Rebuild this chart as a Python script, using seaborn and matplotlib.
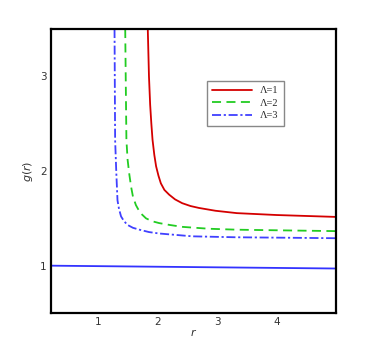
import matplotlib
matplotlib.use('Agg')
import matplotlib.pyplot as plt
import seaborn as sns

sns.set_theme(style='white')
plt.rcParams['font.family'] = ['DejaVu Sans']

# curves
r_l1 = [1.83, 1.85, 1.87, 1.89, 1.91, 1.94, 1.97, 2.01, 2.05, 2.11, 2.19, 2.29, 2.41, 2.55, 2.69, 2.97, 3.33, 4.00, 4.50, 5.00]
g_l1 = [3.50, 3.00, 2.70, 2.50, 2.33, 2.17, 2.05, 1.95, 1.87, 1.80, 1.75, 1.70, 1.66, 1.63, 1.61, 1.58, 1.555, 1.535, 1.525, 1.515]

r_l2 = [1.45, 1.46, 1.47, 1.49, 1.52, 1.55, 1.58, 1.63, 1.70, 1.80, 1.90, 2.02, 2.20, 2.41, 2.86, 3.33, 4.20, 5.00]
g_l2 = [3.50, 2.90, 2.33, 2.12, 1.96, 1.83, 1.73, 1.64, 1.56, 1.50, 1.47, 1.45, 1.43, 1.41, 1.39, 1.38, 1.372, 1.365]

r_l3 = [1.27, 1.275, 1.28, 1.30, 1.32, 1.345, 1.38, 1.43, 1.49, 1.58, 1.69, 1.85, 2.02, 2.58, 3.31, 4.20, 5.00]
g_l3 = [3.50, 2.90, 2.33, 1.98, 1.69, 1.60, 1.52, 1.47, 1.43, 1.40, 1.38, 1.355, 1.34, 1.31, 1.30, 1.295, 1.29]

r_flat = [0.2, 5.0]
g_flat = [1.00, 0.97]

fig = plt.figure(figsize=(3.82, 3.40), dpi=100)
ax = fig.add_axes([0.1335, 0.0794, 0.7461, 0.8353])

kw = dict(ax=ax, sort=False, estimator=None, lw=1.3)
sns.lineplot(x=r_l1, y=g_l1, color='#d40000', label='Λ=1', **kw)
sns.lineplot(x=r_l2, y=g_l2, color='#22cc22', linestyle=(0, (5, 3)), label='Λ=2', **kw)
sns.lineplot(x=r_l3, y=g_l3, color='#4040ff', linestyle=(0, (5, 1.5, 1.2, 1.5)), label='Λ=3', **kw)
sns.lineplot(x=r_flat, y=g_flat, color='#3333ff', **kw)

ax.set_xlim(0.2, 5.0)
ax.set_ylim(0.5, 3.5)
ax.set_xticks([1, 2, 3, 4])
ax.set_yticks([1, 2, 3])
ax.tick_params(length=0, labelsize=7.5, colors='#333333', pad=3)
for s in ax.spines.values():
    s.set_color('black')
    s.set_linewidth(1.6)

ax.set_xlabel('$r$', fontsize=8, color='#333333', labelpad=0)
ax.set_ylabel('$g(r)$', fontsize=8, color='#333333', labelpad=4)

leg = ax.legend(loc='upper left', bbox_to_anchor=(0.547, 0.817), borderaxespad=0,
                fancybox=False, prop={'family': 'Liberation Serif', 'size': 7.5},
                handlelength=3.8, borderpad=0.5, labelspacing=0.3, framealpha=1)
leg.get_frame().set_edgecolor('#888888')
leg.get_frame().set_linewidth(1.0)

fig.savefig('out.png', dpi=100)
